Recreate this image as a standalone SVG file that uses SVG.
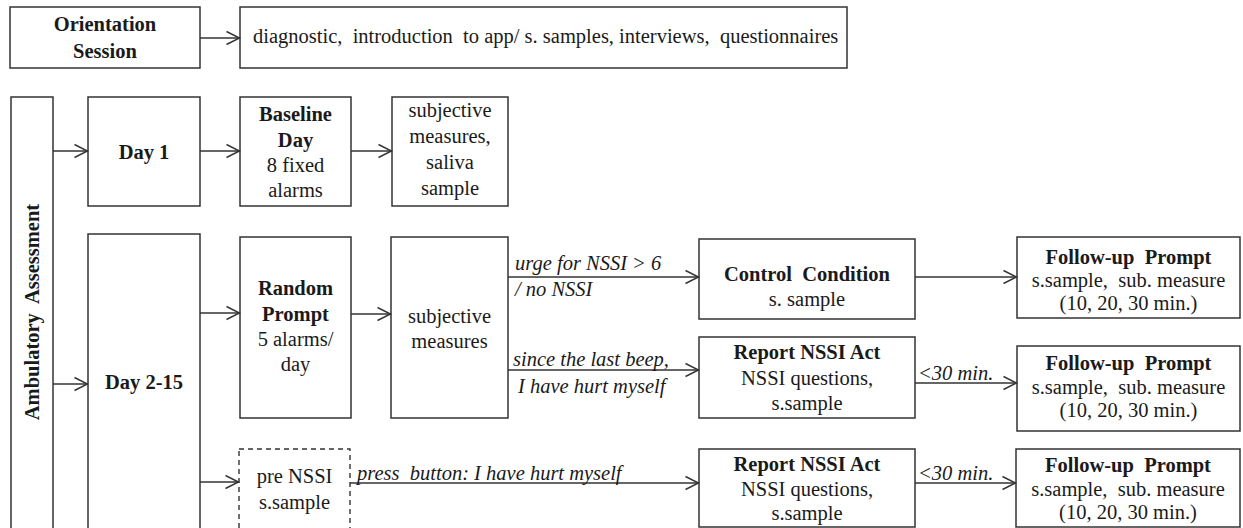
<svg xmlns="http://www.w3.org/2000/svg" width="1243" height="528" viewBox="0 0 1243 528" font-family="Liberation Serif, Tinos, Times New Roman, DejaVu Serif, serif">
<defs>
<style>
rect.box{fill:#fff;stroke:#333;stroke-width:1.5}
rect.dash{fill:#fff;stroke:#333;stroke-width:1.4;stroke-dasharray:5,4}
text{font-family:'Liberation Serif','Tinos','Times New Roman','DejaVu Serif',serif;font-size:20.5px;fill:#1a1a1a;white-space:pre}
.b{font-weight:bold}
.c{text-anchor:middle}
.i{font-style:italic}
.conn line{stroke:#333;stroke-width:1.5;fill:none;marker-end:url(#ah)}
</style>
<marker id="ah" markerWidth="16" markerHeight="16" viewBox="0 0 16 16" refX="14.5" refY="8" orient="auto" markerUnits="userSpaceOnUse">
<path d="M1,1.5 L14,8 L1,14.5" fill="none" stroke="#333" stroke-width="1.4"/>
</marker>
</defs>
<rect width="1243" height="528" fill="#fff"/>

<g id="orientation">
<rect class="box" x="10" y="7" width="190" height="61"/>
<text class="b c" x="105" y="31">Orientation</text>
<text class="b c" x="105" y="58">Session</text>
</g>
<g id="diagnostic">
<rect class="box" x="240" y="7" width="607" height="61"/>
<text x="253" y="43">diagnostic,  introduction  to app/ s. samples, interviews,  questionnaires</text>
</g>

<g id="ambulatory">
<rect class="box" x="11" y="97" width="42" height="450"/>
<text class="b c" transform="translate(39,312) rotate(-90)">Ambulatory  Assessment</text>
</g>

<g id="day1">
<rect class="box" x="88" y="97" width="112" height="109"/>
<text class="b c" x="144" y="159">Day 1</text>
</g>
<g id="baseline">
<rect class="box" x="240" y="97" width="111" height="109"/>
<text class="b c" x="295.5" y="121">Baseline</text>
<text class="b c" x="295.5" y="147">Day</text>
<text class="c" x="295.5" y="172">8 fixed</text>
<text class="c" x="295.5" y="197">alarms</text>
</g>
<g id="subjective1">
<rect class="box" x="392" y="97" width="116" height="109"/>
<text class="c" x="450" y="117">subjective</text>
<text class="c" x="450" y="143">measures,</text>
<text class="c" x="450" y="169">saliva</text>
<text class="c" x="450" y="195">sample</text>
</g>

<g id="day2-15">
<rect class="box" x="88" y="234" width="112" height="310"/>
<text class="b c" x="144" y="389">Day 2-15</text>
</g>
<g id="random">
<rect class="box" x="240" y="237" width="111" height="181"/>
<text class="b c" x="295.5" y="295">Random</text>
<text class="b c" x="295.5" y="321">Prompt</text>
<text class="c" x="295.5" y="346">5 alarms/</text>
<text class="c" x="295.5" y="371">day</text>
</g>
<g id="subjective2">
<rect class="box" x="391" y="237" width="117" height="181"/>
<text class="c" x="449.5" y="323">subjective</text>
<text class="c" x="449.5" y="348">measures</text>
</g>
<g id="prensi">
<rect class="dash" x="239" y="449" width="111" height="95"/>
<text class="c" x="294.5" y="483">pre NSSI</text>
<text class="c" x="294.5" y="509">s.sample</text>
</g>

<g id="control">
<rect class="box" x="699" y="239" width="216" height="80"/>
<text class="b c" x="807" y="281">Control  Condition</text>
<text class="c" x="807" y="306">s. sample</text>
</g>
<g id="report1">
<rect class="box" x="699" y="337" width="216" height="81"/>
<text class="b c" x="807" y="359">Report NSSI Act</text>
<text class="c" x="807" y="385">NSSI questions,</text>
<text class="c" x="807" y="410">s.sample</text>
</g>
<g id="report2">
<rect class="box" x="699" y="449" width="216" height="78"/>
<text class="b c" x="807" y="471">Report NSSI Act</text>
<text class="c" x="807" y="496">NSSI questions,</text>
<text class="c" x="807" y="520">s.sample</text>
</g>

<g id="followup1">
<rect class="box" x="1017" y="237" width="223" height="81"/>
<text class="b c" x="1128.5" y="264">Follow-up  Prompt</text>
<text class="c" x="1128.5" y="287">s.sample,  sub. measure</text>
<text class="c" x="1128.5" y="310">(10, 20, 30 min.)</text>
</g>
<g id="followup2">
<rect class="box" x="1017" y="346" width="223" height="85"/>
<text class="b c" x="1128.5" y="370">Follow-up  Prompt</text>
<text class="c" x="1128.5" y="394">s.sample,  sub. measure</text>
<text class="c" x="1128.5" y="417">(10, 20, 30 min.)</text>
</g>
<g id="followup3">
<rect class="box" x="1016" y="449" width="224" height="78"/>
<text class="b c" x="1128" y="472">Follow-up  Prompt</text>
<text class="c" x="1128" y="496">s.sample,  sub. measure</text>
<text class="c" x="1128" y="519">(10, 20, 30 min.)</text>
</g>

<g id="connectors" class="conn">
<line x1="200" y1="38" x2="240" y2="38"/>
<line x1="53" y1="151" x2="88" y2="151"/>
<line x1="200" y1="151" x2="240" y2="151"/>
<line x1="351" y1="151" x2="392" y2="151"/>
<line x1="53" y1="384" x2="88" y2="384"/>
<line x1="200" y1="313" x2="240" y2="313"/>
<line x1="200" y1="482" x2="239" y2="482"/>
<line x1="351" y1="314" x2="391" y2="314"/>
<line x1="508" y1="277" x2="699" y2="277"/>
<line x1="508" y1="370" x2="699" y2="370"/>
<line x1="915" y1="277" x2="1017" y2="277"/>
<line x1="915" y1="383" x2="1017" y2="383"/>
<line x1="350" y1="483" x2="699" y2="483"/>
<line x1="915" y1="483" x2="1016" y2="483"/>
</g>
<g id="labels">
<text class="i" x="515" y="270">urge for NSSI &gt; 6</text>
<text class="i" x="515" y="296">/ no NSSI</text>
<text class="i" x="513" y="366">since the last beep,</text>
<text class="i" x="518" y="393">I have hurt myself</text>
<text class="i" x="357" y="480">press  button: I have hurt myself</text>
<text class="i" x="918" y="380">&lt;30 min.</text>
<text class="i" x="918" y="480">&lt;30 min.</text>
</g>
</svg>
